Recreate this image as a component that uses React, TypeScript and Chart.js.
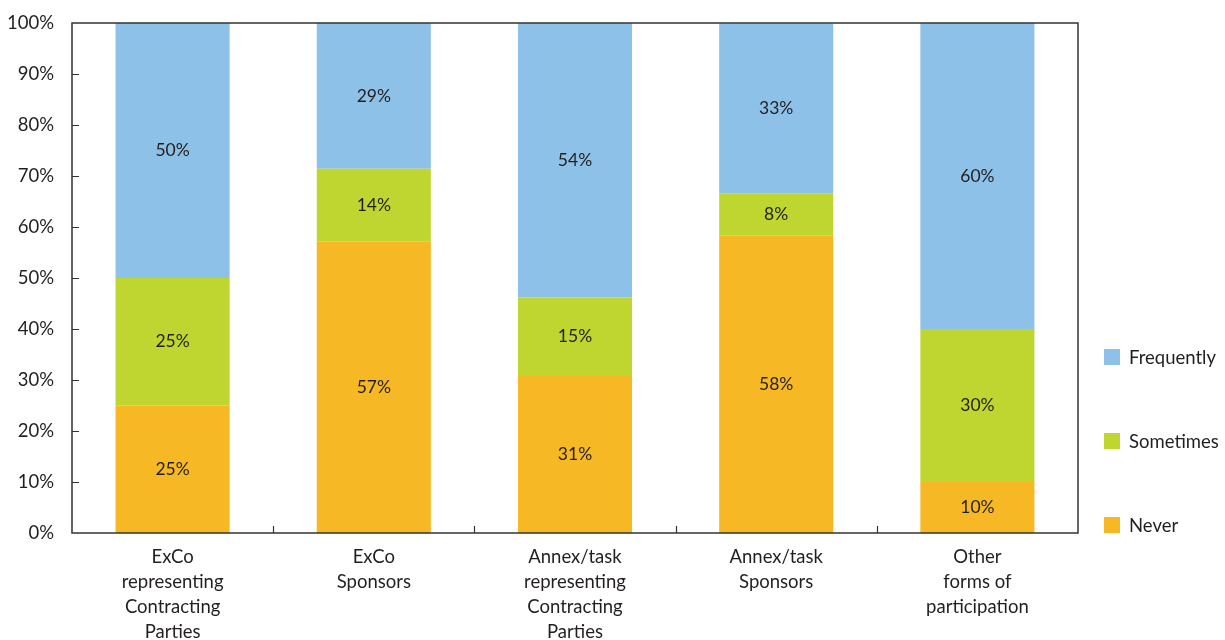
import React, { useEffect, useRef } from "react";
import { Chart, registerables } from "chart.js";

Chart.register(...registerables);

const categories: string[][] = [
  ["ExCo", "representing", "Contracting", "Parties"],
  ["ExCo", "Sponsors"],
  ["Annex/task", "representing", "Contracting", "Parties"],
  ["Annex/task", "Sponsors"],
  ["Other", "forms of", "participation"],
];

const neverValues = [25, 57.1, 30.8, 58.3, 10];
const sometimesValues = [25, 14.3, 15.4, 8.3, 30];
const frequentlyValues = [50, 28.6, 53.8, 33.3, 60];

const seriesNames = ["Never", "Sometimes", "Frequently"];
const seriesColors = ["#F7B825", "#BED62F", "#8EC1E7"];

const yTicks = [0, 10, 20, 30, 40, 50, 60, 70, 80, 90, 100];

const FONT = "Lato, 'Open Sans', sans-serif";
const TEXT = "#231F20";

const framePlugin = {
  id: "frame",
  afterDatasetsDraw(chart: any) {
    const { ctx, chartArea, scales } = chart;
    const { left, right, top, bottom } = chartArea;
    ctx.save();
    ctx.strokeStyle = "#333333";
    ctx.lineWidth = 1.5;
    ctx.strokeRect(left, top, right - left, bottom - top);
    // inward y ticks
    ctx.lineWidth = 1.2;
    ctx.beginPath();
    yTicks.forEach((v) => {
      if (v === 0 || v === 100) return;
      const y = Math.round(scales.y.getPixelForValue(v)) + 0.5;
      ctx.moveTo(left, y);
      ctx.lineTo(left + 7, y);
    });
    // inward x ticks at category boundaries
    for (let i = 0; i < categories.length - 1; i++) {
      const x =
        Math.round(
          (scales.x.getPixelForValue(i) + scales.x.getPixelForValue(i + 1)) / 2
        ) + 0.5;
      ctx.moveTo(x, bottom);
      ctx.lineTo(x, bottom - 7);
    }
    ctx.stroke();

    // value labels
    ctx.fillStyle = TEXT;
    ctx.font = `17.5px ${FONT}`;
    ctx.textAlign = "center";
    ctx.textBaseline = "middle";
    chart.data.datasets.forEach((ds: any, di: number) => {
      const meta = chart.getDatasetMeta(di);
      meta.data.forEach((bar: any, i: number) => {
        const v = ds.data[i];
        const cy = (bar.y + bar.base) / 2;
        ctx.fillText(`${Math.round(v)}%`, bar.x, cy);
      });
    });

    // legend
    const items = [2, 1, 0];
    const legendY = [357, 441, 525];
    ctx.font = `18.5px ${FONT}`;
    ctx.textAlign = "left";
    items.forEach((di, k) => {
      const ds = chart.data.datasets[di];
      const cy = legendY[k];
      ctx.fillStyle = ds.backgroundColor;
      ctx.fillRect(right + 26, cy - 8, 16, 16);
      ctx.fillStyle = TEXT;
      ctx.fillText(ds.label, right + 51, cy + 1);
    });
    ctx.restore();
  },
};

export default function App() {
  const canvasRef = useRef<HTMLCanvasElement | null>(null);

  useEffect(() => {
    if (!canvasRef.current) return;
    const valueSets = [neverValues, sometimesValues, frequentlyValues];
    const chart = new Chart(canvasRef.current, {
      type: "bar",
      data: {
        labels: categories,
        datasets: valueSets.map((vals, i) => ({
          label: seriesNames[i],
          data: vals,
          backgroundColor: seriesColors[i],
          borderWidth: 0,
          barPercentage: 0.567,
          categoryPercentage: 1,
        })),
      },
      options: {
        animation: false,
        responsive: true,
        maintainAspectRatio: false,
        layout: { padding: { top: 23, right: 147, left: 0, bottom: 0 } },
        plugins: {
          legend: { display: false },
          tooltip: { enabled: false },
        },
        scales: {
          x: {
            stacked: true,
            grid: { display: false },
            border: { display: false },
            ticks: {
              color: TEXT,
              font: { family: FONT, size: 18.5, lineHeight: 1.36 },
              padding: 3,
              maxRotation: 0,
              autoSkip: false,
            },
            afterFit(scale: any) {
              scale.height = 107;
              scale.paddingLeft = 0;
              scale.paddingRight = 0;
            },
          },
          y: {
            stacked: true,
            min: 0,
            max: 100,
            grid: { display: false },
            border: { display: false },
            afterBuildTicks(scale: any) {
              scale.ticks = yTicks.map((v) => ({ value: v }));
            },
            ticks: {
              color: TEXT,
              font: { family: FONT, size: 18.5 },
              padding: 10,
              callback: (v: any) => `${v}%`,
            },
            afterFit(scale: any) {
              scale.width = 72;
              scale.paddingTop = 0;
              scale.paddingBottom = 0;
            },
          },
        },
      },
      plugins: [framePlugin],
    });
    return () => chart.destroy();
  }, []);

  return (
    <div style={{ position: "absolute", left: 0, top: 0, width: 1225, height: 640, background: "#fff" }}>
      <canvas ref={canvasRef} />
    </div>
  );
}
